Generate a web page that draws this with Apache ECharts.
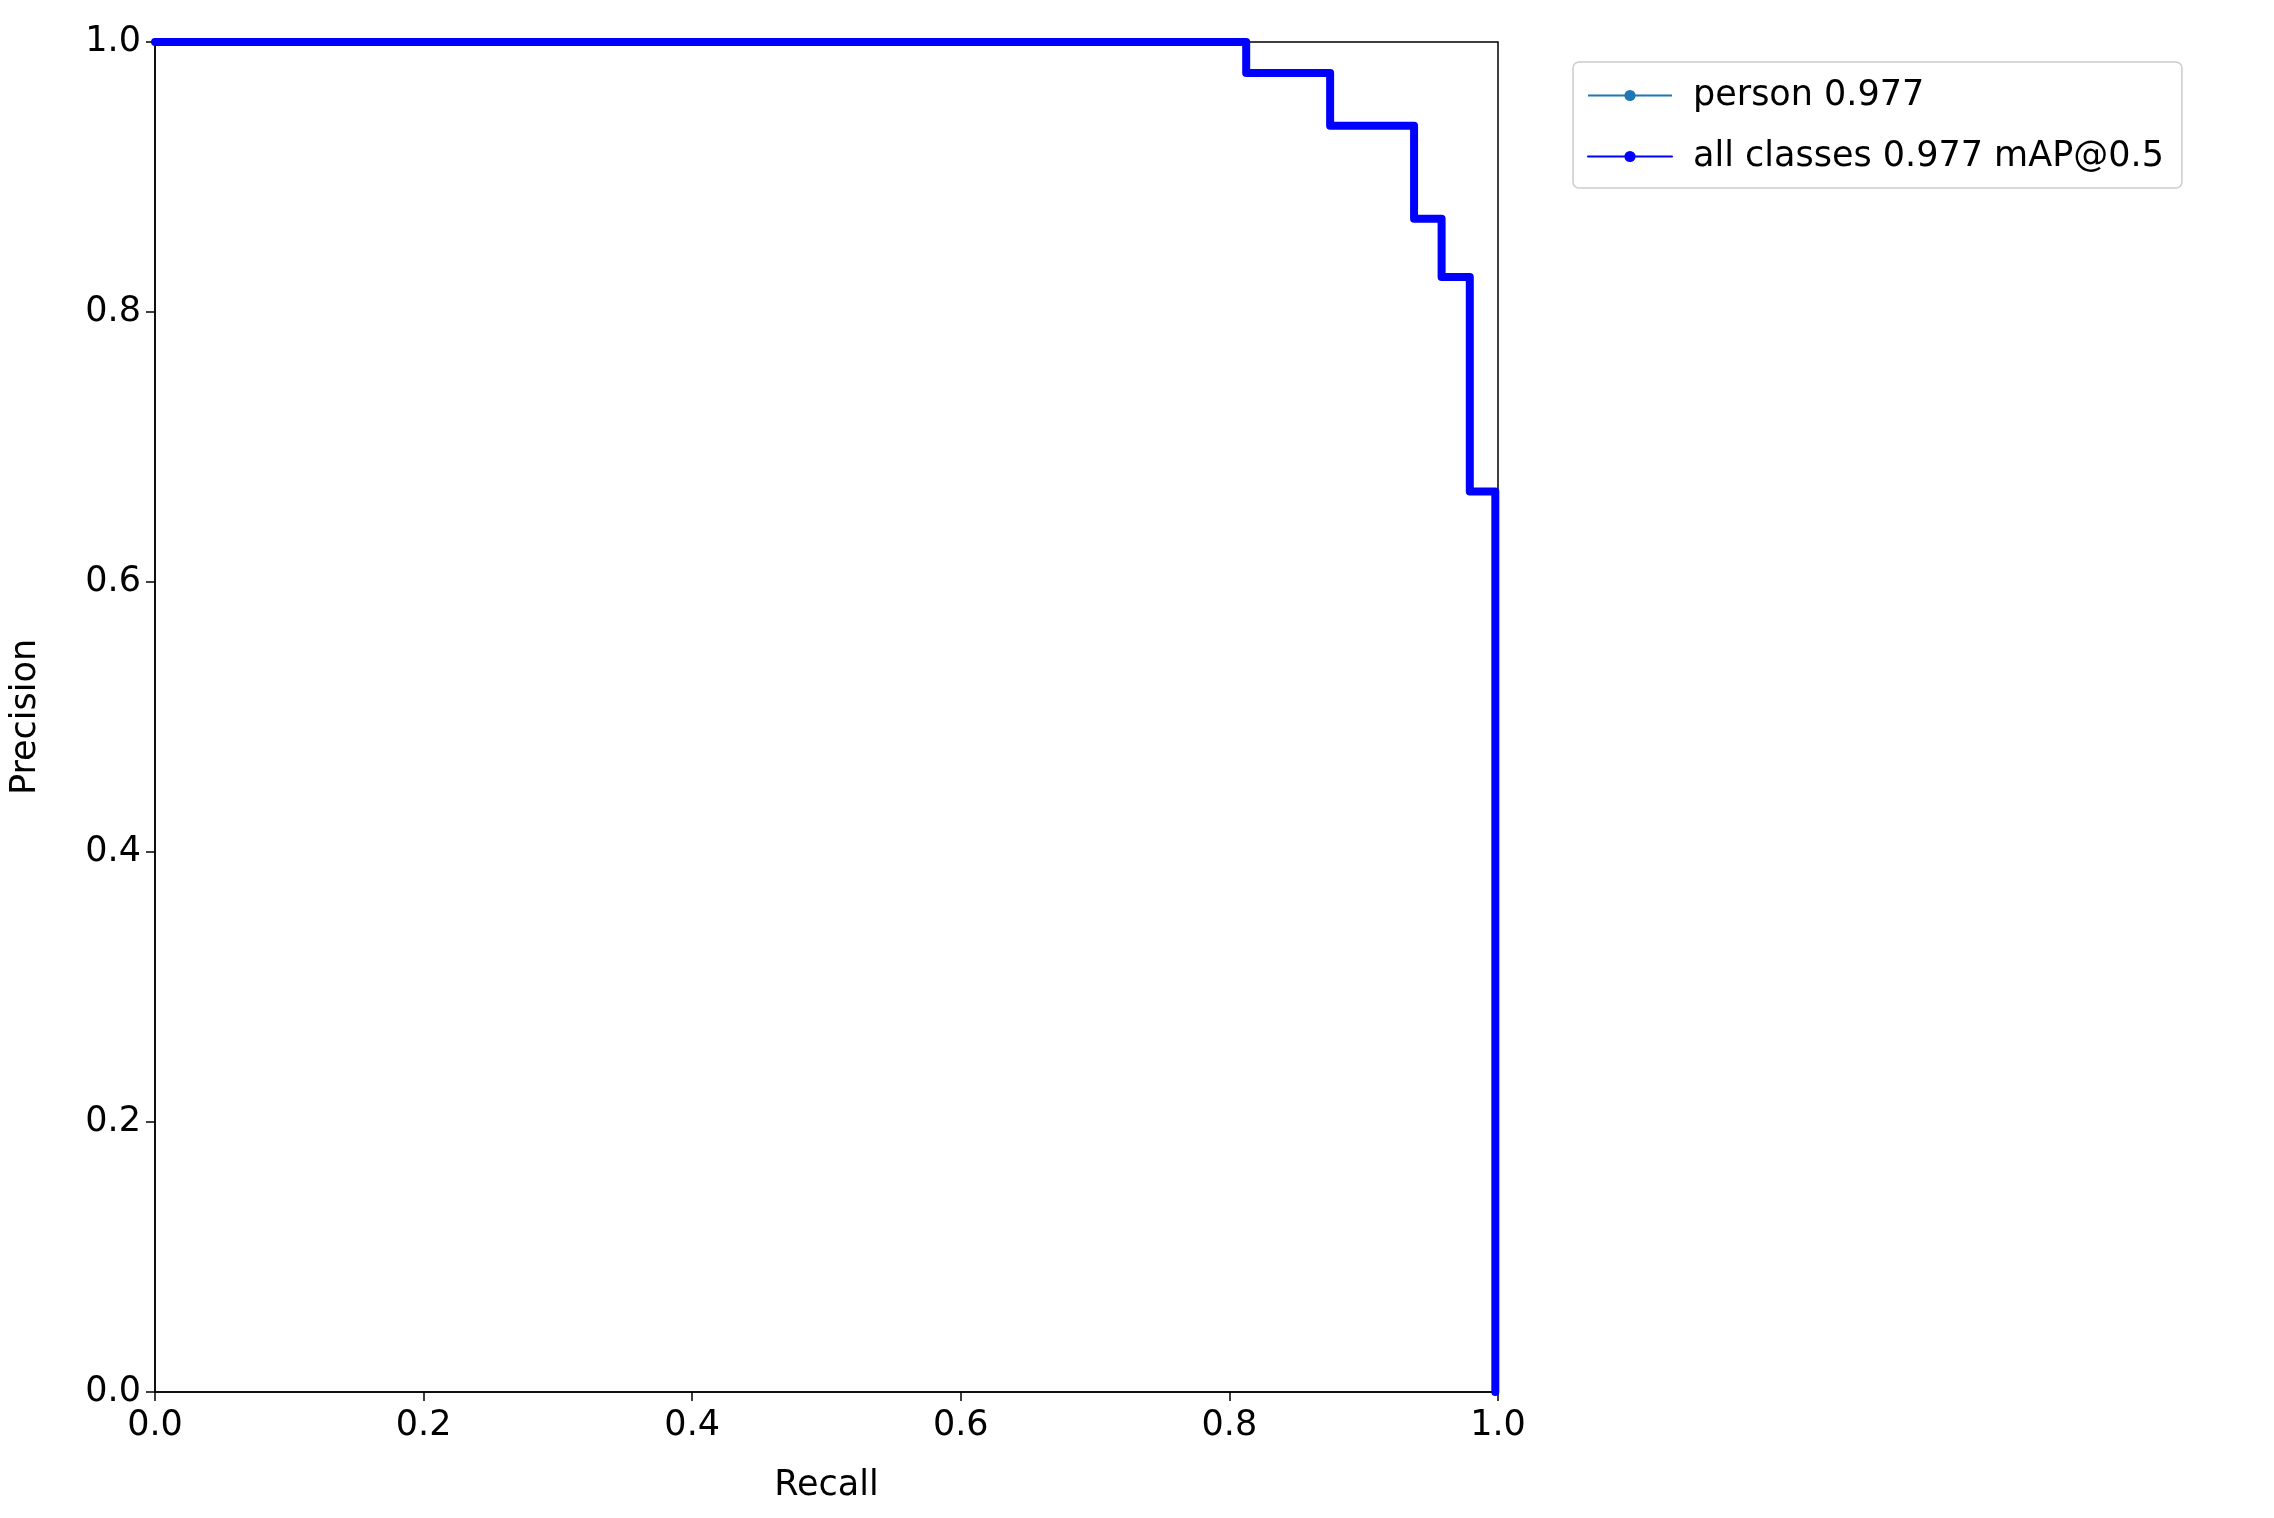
<!DOCTYPE html>
<html>
<head>
<meta charset="utf-8">
<script src="https://cdn.jsdelivr.net/npm/echarts@6/dist/echarts.min.js"></script>
<style>html,body{margin:0;padding:0;background:#fff;}#main{width:2274px;height:1518px;}</style>
</head>
<body>
<div id="main"></div>
<script>
// PR curve values
var recall    = [0, 0.8125, 0.8125, 0.875, 0.875, 0.9375, 0.9375, 0.958, 0.958, 0.979, 0.979, 0.998, 0.998];
var precision = [1, 1, 0.977, 0.977, 0.938, 0.938, 0.869, 0.869, 0.826, 0.826, 0.667, 0.667, 0];
var seriesNames = ['person 0.977', 'all classes 0.977 mAP@0.5'];
var xTicks = [0, 0.2, 0.4, 0.6, 0.8, 1.0];

var pts = recall.map(function (r, i) { return [r, precision[i]]; });
var font = 'DejaVu Sans';

var echart = echarts.init(document.getElementById('main'));
var option = {
    animation: false,
    textStyle: { fontFamily: font },
    grid: {
        left: 155, top: 42, width: 1343, height: 1350,
        show: true, borderColor: '#000', borderWidth: 1.5, backgroundColor: '#fff'
    },
    legend: {
        orient: 'vertical', left: 1573, top: 62,
        itemWidth: 84, itemHeight: 14, itemGap: 26,
        padding: [16, 18, 14, 14],
        borderColor: '#cccccc', borderWidth: 1.5, borderRadius: 6,
        textStyle: { fontFamily: font, fontSize: 35, color: '#000', padding: [0, 0, 0, 16] },
        data: seriesNames
    },
    xAxis: {
        type: 'value', min: 0, max: 1, interval: 0.2,
        name: 'Recall', nameLocation: 'middle', nameGap: 76,
        nameTextStyle: { fontFamily: font, fontSize: 35, color: '#000' },
        axisLine: { show: true, lineStyle: { color: '#000', width: 1.5 } },
        axisTick: { show: true, inside: false, length: 9, lineStyle: { color: '#000', width: 1.5 } },
        axisLabel: { fontFamily: font, fontSize: 35, color: '#000', margin: 16,
            formatter: function (v) { return v.toFixed(1); } },
        splitLine: { show: false }
    },
    yAxis: {
        type: 'value', min: 0, max: 1, interval: 0.2,
        name: 'Precision', nameLocation: 'middle', nameGap: 112,
        nameTextStyle: { fontFamily: font, fontSize: 35, color: '#000' },
        axisLine: { show: true, lineStyle: { color: '#000', width: 1.5 } },
        axisTick: { show: true, inside: false, length: 9, lineStyle: { color: '#000', width: 1.5 } },
        axisLabel: { fontFamily: font, fontSize: 35, color: '#000', margin: 14,
            formatter: function (v) { return v.toFixed(1); } },
        splitLine: { show: false }
    },
    series: [
        {
            name: seriesNames[0], type: 'line', data: pts, symbol: 'none',
            itemStyle: { color: '#1f77b4' },
            lineStyle: { color: '#1f77b4', width: 2 }, z: 3
        },
        {
            name: seriesNames[1], type: 'line', data: pts, symbol: 'none',
            itemStyle: { color: '#0000ff' },
            lineStyle: { color: '#0000ff', width: 8, join: 'round', cap: 'round' }, z: 4
        }
    ]
};
echart.setOption(option);
</script>
</body>
</html>
